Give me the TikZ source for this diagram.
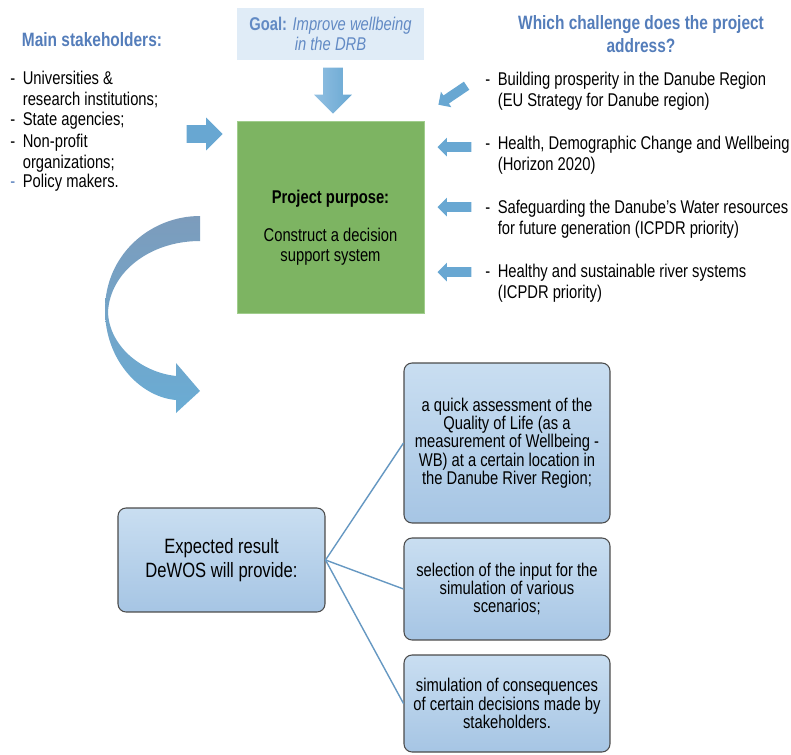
\documentclass[tikz,border=0pt]{standalone}
\usepackage{fontspec}
\setmainfont{Liberation Sans}[FakeStretch=0.8]
\usetikzlibrary{shapes.arrows}

\definecolor{headblue}{RGB}{84,125,186}
\definecolor{goalfill}{RGB}{224,236,247}
\definecolor{goaltext}{RGB}{98,138,196}
\definecolor{purposegreen}{RGB}{125,180,98}
\definecolor{purposeedge}{RGB}{160,205,140}
\definecolor{arrowblue}{RGB}{104,167,210}
\definecolor{arrowlight}{RGB}{146,192,226}
\definecolor{curvetop}{RGB}{124,156,188}
\definecolor{curvebot}{RGB}{106,172,212}
\definecolor{boxtop}{RGB}{201,222,241}
\definecolor{boxbot}{RGB}{166,197,228}
\definecolor{boxedge}{RGB}{75,75,75}
\definecolor{linkblue}{RGB}{102,152,194}

\newcommand{\itemdash}{\makebox[0.25cm][l]{-}}
\newcommand{\itemgap}{\hspace*{0.25cm}}

\tikzset{
  headline/.style={font=\fontsize{11}{13}\selectfont\bfseries, text=headblue, align=center, inner sep=0pt},
  listitem/.style={font=\fontsize{10.5}{11.9}\selectfont, align=left, anchor=west, inner sep=0pt},
  blockarrow/.style={shape=single arrow, inner xsep=0pt, single arrow head indent=0pt,
    minimum width=0pt, draw=none, anchor=tip},
  smallarrow/.style={blockarrow, fill=arrowblue, minimum height=0.68cm,
    inner ysep=0.09cm, single arrow head extend=0.09cm},
  resultbox/.style={draw=boxedge, line width=0.6pt, rounded corners=0.16cm,
    top color=boxtop, bottom color=boxbot, align=center, minimum width=4.12cm,
    font=\fontsize{10.5}{10.4}\selectfont},
  link/.style={draw=linkblue, line width=0.8pt}
}

\begin{document}
\begin{tikzpicture}[x=0.02cm, y=-0.02cm]
\useasboundingbox (0,0) rectangle (791,754);

% goal and purpose
\node[fill=goalfill, minimum width=3.74cm, minimum height=1.04cm, inner sep=0pt,
  align=center, text=goaltext, font=\fontsize{10.5}{11}\selectfont] (goal) at (330.5,34)
  {\textbf{Goal:} \textit{Improve wellbeing}\\\textit{in the DRB}};
\node[fill=purposegreen, draw=purposeedge, line width=0.5pt, minimum width=3.74cm,
  minimum height=3.84cm] (purpose) at (330.5,217) {};
\node[align=center, font=\fontsize{10.5}{11.4}\selectfont] (purposetext) at (330.5,228)
  {\textbf{Project purpose:}\\[10pt]Construct a decision\\support system};

\node[blockarrow, minimum height=0.92cm, inner ysep=0.19cm, single arrow head extend=0.18cm,
  rotate=-90, left color=arrowlight, right color=arrowblue] (goalarrow) at (333,114) {};
\node[blockarrow, minimum height=0.72cm, inner ysep=0.17cm, single arrow head extend=0.15cm,
  fill=arrowblue] (stakearrow) at (223,134) {};

% stakeholders
\node[headline] (stakehead) at (92,40) {Main stakeholders:};
\node[listitem] (s1) at (10,89.5) {\itemdash Universities \&\\\itemgap research institutions;};
\node[listitem] (s2) at (10,121) {\itemdash State agencies;};
\node[listitem] (s3) at (10,153) {\itemdash Non-profit\\\itemgap organizations;};
\node[listitem] (s4) at (10,183) {\makebox[0.25cm][l]{\textcolor{headblue}{-}}Policy makers.};

% challenges
\node[headline] (challhead) at (641,34) {Which challenge does the project\\address?};
\node[listitem] (c1) at (485,91) {\itemdash Building prosperity in the Danube Region\\\itemgap (EU Strategy for Danube region)};
\node[listitem] (c2) at (485,155.5) {\itemdash Health, Demographic Change and Wellbeing\\\itemgap (Horizon 2020)};
\node[listitem] (c3) at (485,219) {\itemdash Safeguarding the Danube's Water resources\\\itemgap for future generation (ICPDR priority)};
\node[listitem] (c4) at (485,283) {\itemdash Healthy and sustainable river systems\\\itemgap (ICPDR priority)};

\node[smallarrow, rotate=214] (ca1) at (438,105) {};
\foreach \y [count=\i from 2] in {147,207,272} {
  \node[smallarrow, rotate=180] (ca\i) at (437,\y) {};
}

% curved arrow
\shade[top color=curvetop, bottom color=curvebot]
  (200,216) .. controls (150,216) and (105,255) .. (105,310)
  .. controls (105,360) and (140,397) .. (176,400)
  -- (176,413) -- (200,391) -- (176,363) -- (176,376)
  .. controls (140,372) and (109,345) .. (108,312)
  .. controls (110,272) and (150,241) .. (200,241) -- cycle;

% expected results
\node[resultbox, minimum width=4.14cm, minimum height=2.08cm,
  font=\fontsize{11.8}{13.6}\selectfont] (expected) at (221.5,560)
  {Expected result\\DeWOS will provide:};
\node[resultbox, minimum height=3.2cm] (res1) at (507,443)
  {a quick assessment of the\\Quality of Life (as a\\measurement of Wellbeing -\\WB) at a certain location in\\the Danube River Region;};
\node[resultbox, minimum height=2.04cm] (res2) at (507,589)
  {selection of the input for the\\simulation of various\\scenarios;};
\node[resultbox, minimum height=1.94cm] (res3) at (507,703.5)
  {simulation of  consequences\\of certain decisions made by\\stakeholders.};

\foreach \r in {res1,res2,res3} {
  \draw[link] (expected.east) -- (\r.west);
}
\end{tikzpicture}
\end{document}
